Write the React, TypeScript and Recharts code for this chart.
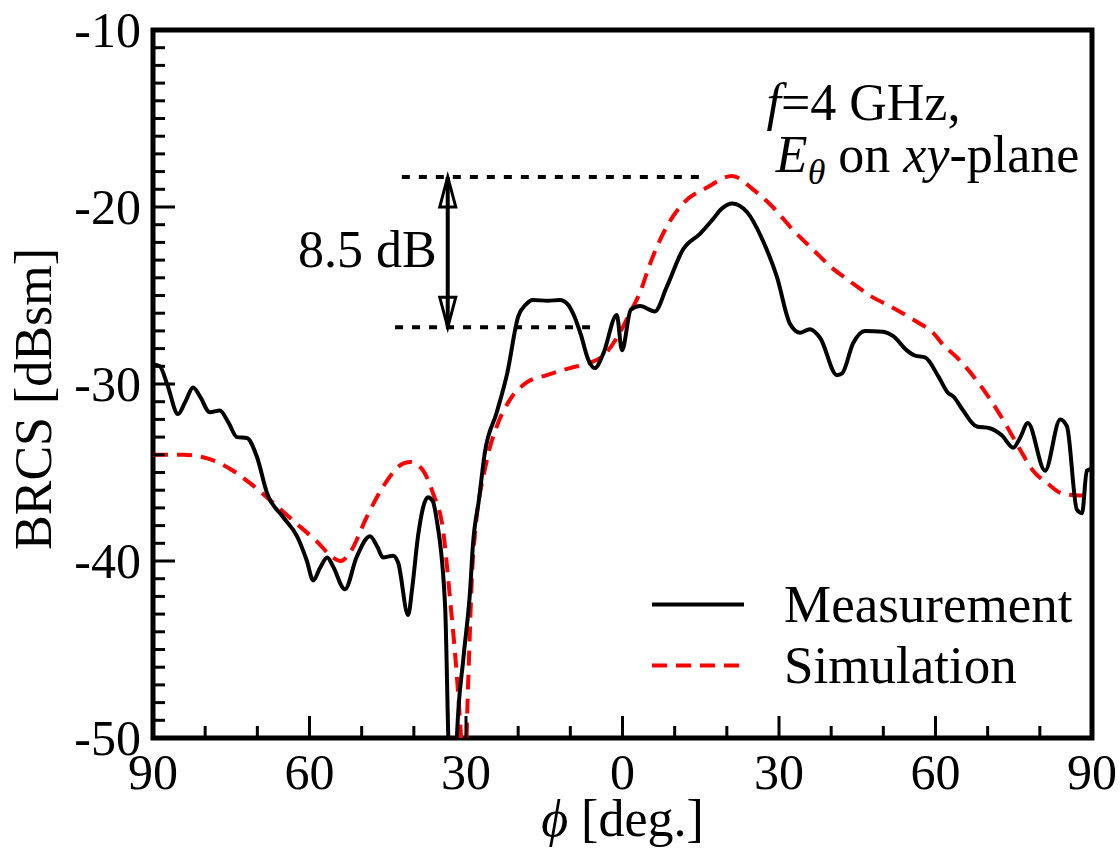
import React from 'react';
import {
  LineChart,
  Line,
  XAxis,
  YAxis,
  ReferenceLine,
  ReferenceDot,
  ReferenceArea,
  Legend,
} from 'recharts';

// ---- data (phi in degrees, BRCS in dBsm) ----
const measPhi = [
  -90, -88.7, -87.3, -85.2, -83.8, -82.3, -81, -79.1, -77.2, -75.5, -73.9, -72.0, -70.1, -68.1,
  -65.1, -62.4, -60.5, -59.3, -58, -56.6, -55.5, -53.2, -51, -48.4, -47, -45.9, -44.0, -43.0,
  -41.1, -40.3, -39.2, -37.3, -36.4, -35.6, -34.0, -33.4, -32.6, -31.7, -30.5, -29.2, -28.7,
  -27.5, -26.4, -24.1, -22.1, -20.0, -18.5, -17.2, -14.3, -12.0, -10.5, -9.5, -8, -6.6, -5.3,
  -3.7, -1.1, -0.1, 1.6, 3.4, 6.2, 8.5, 11.6, 14.9, 17.3, 19, 21.0, 23.9, 26.9, 29.6, 32.1,
  34.0, 35.9, 37.9, 41.1, 42.1, 44.2, 46.5, 49.9, 51.9, 54.5, 56.1, 58.0, 60.6, 62.4, 63.4,
  65.3, 67.9, 70.4, 72.7, 74.9, 76.2, 77.7, 81.0, 83.9, 85.2, 87.1, 88.1, 89.0, 90,
];
const measBrcs = [
  -28.9, -29.0, -30.0, -31.7, -31.0, -30.2, -30.7, -31.6, -31.5, -32.2, -33.0, -33.05, -34.1, -36.2,
  -37.5, -38.6, -40.0, -41.1, -40.4, -39.8, -40.3, -41.6, -39.8, -38.6, -39.2, -39.8, -39.7, -40.1,
  -43.05, -41.5, -38.6, -36.4, -36.6, -37.7, -42.6, -49.9, -58, -49.7, -45.5, -41.6, -39.2,
  -36.5, -33.9, -31.6, -29.4, -26.2, -25.5, -25.25, -25.3, -25.25, -25.5, -26.0, -27.2, -28.6, -29.1,
  -28.3, -26.1, -28.1, -25.8, -25.6, -25.9, -24.5, -22.4, -21.5, -20.7, -20.1, -19.8, -20.3, -21.9, -23.95, -26.6,
  -27.1, -26.9, -27.4, -29.5, -29.4, -27.7, -27.0, -27.05, -27.3, -28.1, -28.4, -28.5, -29.6, -30.5, -30.7,
  -31.5, -32.4, -32.5, -32.9, -33.6, -33.05, -32.2, -34.9, -32.0, -32.4, -37.1, -37.3, -34.9, -34.8,
];

const simPhi = [
  -90, -84.2, -79.6, -75.2, -71.4, -67.6, -63.2, -58.6, -55.5, -54.0, -52.2, -49.0, -45.9, -42.1,
  -40.7, -38.2, -36.3, -34.4, -33.1, -31.7, -31.0, -30.3, -29.6, -28.7, -26.0, -24.1, -21.6, -18.3,
  -14.5, -10.1, -6.2, -3.7, -1.1, 1.4, 3.4, 5.3, 8.5, 11.6, 16.2, 21.0, 25.0, 28.8, 32.7, 36.5,
  40.0, 43.6, 47.4, 51.9, 56.5, 59.5, 61.5, 64.1, 67.9, 71.0, 73.7, 76.2, 78.7, 81.4, 84.4, 87.7, 90,
];
const simBrcs = [
  -34.0, -34.0, -34.2, -34.8, -35.6, -36.55, -37.7, -38.9, -39.8, -40.0, -39.5, -37.5, -35.8, -34.5,
  -34.4, -34.9, -36.2, -38.25, -42.0, -46.7, -49.7, -53, -47, -40.0, -34.3, -32.4, -30.9, -29.9,
  -29.5, -29.1, -28.8, -28.4, -27.4, -26.0, -24.8, -23.2, -21.1, -19.8, -18.9, -18.25, -19.0, -20.0, -21.3, -22.4,
  -23.4, -24.2, -25.0, -25.7, -26.5, -27.1, -27.8, -28.5, -29.8, -31.1, -32.4, -33.7, -34.9, -35.6, -36.2, -36.3, -36.3,
];

const seriesNames = ['Measurement', 'Simulation'];
const xTicks = [-90, -80, -70, -60, -50, -40, -30, -20, -10, 0, 10, 20, 30, 40, 50, 60, 70, 80, 90];
const yTicks = [
  -50, -49, -48, -47, -46, -45, -44, -43, -42, -41, -40, -39, -38, -37, -36, -35, -34, -33, -32, -31,
  -30, -29, -28, -27, -26, -25, -24, -23, -22, -21, -20, -19, -18, -17, -16, -15, -14, -13, -12, -11, -10,
];

// annotation values
const peakLevel = -18.3;
const measLevel = -26.8;
const upperSpan = [-42.3, 16.2];
const lowerSpan = [-43.6, -4.7];
const arrowPhi = -33.5;

const measData = measPhi.map((p, i) => ({ phi: p, v: measBrcs[i] }));
const simData = simPhi.map((p, i) => ({ phi: p, v: simBrcs[i] }));

const FONT = '"Liberation Serif", "Times New Roman", Times, serif';
const TICK_FS = 50;
const TEXT_FS = 52;

const BottomTick = (props: any) => {
  const { x, y, payload } = props;
  const v = payload.value;
  const major = v % 30 === 0;
  return (
    <g>
      <line x1={x} x2={x} y1={y} y2={y - (major ? 22 : 12)} stroke="#000" strokeWidth={3} />
      {major && (
        <text x={x} y={y + 51} textAnchor="middle" fontSize={TICK_FS} fontFamily={FONT} fill="#000">
          {Math.abs(v)}
        </text>
      )}
    </g>
  );
};

const TopTick = (props: any) => {
  const { x, y, payload } = props;
  const major = payload.value % 30 === 0;
  return <line x1={x} x2={x} y1={y} y2={y + (major ? 22 : 12)} stroke="#000" strokeWidth={3} />;
};

const LeftTick = (props: any) => {
  const { x, y, payload } = props;
  const v = payload.value;
  const major = v % 10 === 0;
  return (
    <g>
      <line x1={x} x2={x + (major ? 22 : 12)} y1={y} y2={y} stroke="#000" strokeWidth={3} />
      {major && (
        <text x={x - 12} y={y + 17} textAnchor="end" fontSize={TICK_FS} fontFamily={FONT} fill="#000">
          {v}
        </text>
      )}
    </g>
  );
};

const RightTick = (props: any) => {
  const { x, y, payload } = props;
  const major = payload.value % 10 === 0;
  return <line x1={x} x2={x - (major ? 22 : 12)} y1={y} y2={y} stroke="#000" strokeWidth={3} />;
};

const ArrowShape = (props: any) => {
  const { x1, y1, y2 } = props;
  const top = Math.min(y1, y2);
  const bot = Math.max(y1, y2);
  const x = x1;
  const hw = 8;
  const hl = 30;
  return (
    <g>
      <line x1={x} x2={x} y1={top} y2={bot} stroke="#000" strokeWidth={4} />
      <polygon
        points={`${x},${top} ${x - hw},${top + hl} ${x + hw},${top + hl}`}
        fill="none"
        stroke="#000"
        strokeWidth={3}
      />
      <polygon
        points={`${x},${bot} ${x - hw},${bot - hl} ${x + hw},${bot - hl}`}
        fill="none"
        stroke="#000"
        strokeWidth={3}
      />
    </g>
  );
};

const DiffText = (props: any) => (
  <text x={props.cx} y={props.cy} textAnchor="end" fontSize={TEXT_FS} fontFamily={FONT} fill="#000">
    8.5 dB
  </text>
);

const FreqText = (props: any) => (
  <text x={props.cx} y={props.cy} textAnchor="start" fontSize={TEXT_FS} fontFamily={FONT} fill="#000">
    <tspan fontStyle="italic">f</tspan>
    <tspan>=4 GHz,</tspan>
  </text>
);

const PolText = (props: any) => (
  <text x={props.cx} y={props.cy} textAnchor="start" fontSize={TEXT_FS} fontFamily={FONT} fill="#000">
    <tspan fontStyle="italic">E</tspan>
    <tspan fontStyle="italic" fontSize={36} dy={12}>θ</tspan>
    <tspan dy={-12}> on </tspan>
    <tspan fontStyle="italic">xy</tspan>
    <tspan>-plane</tspan>
  </text>
);

const LegendBox = () => (
  <div style={{ fontFamily: FONT, fontSize: 53, color: '#000', lineHeight: '61px' }}>
    {seriesNames.map((n, i) => (
      <div key={n} style={{ display: 'flex', alignItems: 'center', height: 61, whiteSpace: 'nowrap' }}>
        <svg width={96} height={61} style={{ display: 'block' }}>
          <line
            x1={2}
            x2={94}
            y1={30.5}
            y2={30.5}
            stroke={i === 0 ? '#000' : '#ff0000'}
            strokeWidth={4}
            strokeDasharray={i === 0 ? undefined : '15 9'}
          />
        </svg>
        <span style={{ marginLeft: 38 }}>{n}</span>
      </div>
    ))}
  </div>
);

export default function App() {
  return (
    <div style={{ position: 'absolute', left: 0, top: 0, width: 1120, height: 848, background: '#fff' }}>
      <LineChart width={1120} height={848} margin={{ top: 0, right: 0, bottom: 0, left: 0 }}>
        <XAxis
          xAxisId="b"
          dataKey="phi"
          type="number"
          domain={[-90, 90]}
          ticks={xTicks}
          interval={0}
          allowDataOverflow
          orientation="bottom"
          height={110}
          tickSize={0}
          tickMargin={0}
          axisLine={false}
          tickLine={false}
          tick={<BottomTick />}
          label={{
            content: (p: any) => {
              const vb = p.viewBox;
              return (
                <text
                  x={vb.x + vb.width / 2}
                  y={vb.y + 98}
                  textAnchor="middle"
                  fontSize={TEXT_FS}
                  fontFamily={FONT}
                  fill="#000"
                >
                  <tspan fontStyle="italic">ϕ</tspan>
                  <tspan> [deg.]</tspan>
                </text>
              );
            },
          }}
        />
        <XAxis
          xAxisId="t"
          dataKey="phi"
          type="number"
          domain={[-90, 90]}
          ticks={xTicks}
          interval={0}
          orientation="top"
          height={30}
          tickSize={0}
          tickMargin={0}
          axisLine={false}
          tickLine={false}
          tick={<TopTick />}
        />
        <YAxis
          yAxisId="l"
          type="number"
          domain={[-50, -10]}
          ticks={yTicks}
          interval={0}
          allowDataOverflow
          orientation="left"
          width={153}
          tickSize={0}
          tickMargin={0}
          axisLine={false}
          tickLine={false}
          tick={<LeftTick />}
          label={{
            content: (p: any) => {
              const vb = p.viewBox;
              const cx = vb.x + 51;
              const cy = vb.y + vb.height / 2 + 15;
              return (
                <text
                  x={cx}
                  y={cy}
                  transform={`rotate(-90 ${cx} ${cy})`}
                  textAnchor="middle"
                  fontSize={TEXT_FS}
                  fontFamily={FONT}
                  fill="#000"
                >
                  BRCS [dBsm]
                </text>
              );
            },
          }}
        />
        <YAxis
          yAxisId="r"
          type="number"
          domain={[-50, -10]}
          ticks={yTicks}
          interval={0}
          orientation="right"
          width={28}
          tickSize={0}
          tickMargin={0}
          axisLine={false}
          tickLine={false}
          tick={<RightTick />}
        />

        <ReferenceLine
          xAxisId="b"
          yAxisId="l"
          segment={[
            { x: upperSpan[0], y: peakLevel },
            { x: upperSpan[1], y: peakLevel },
          ]}
          stroke="#000"
          strokeWidth={4}
          strokeDasharray="8 9"
        />
        <ReferenceLine
          xAxisId="b"
          yAxisId="l"
          segment={[
            { x: lowerSpan[0], y: measLevel },
            { x: lowerSpan[1], y: measLevel },
          ]}
          stroke="#000"
          strokeWidth={4}
          strokeDasharray="8 9"
        />
        <ReferenceLine
          xAxisId="b"
          yAxisId="l"
          segment={[
            { x: arrowPhi, y: peakLevel },
            { x: arrowPhi, y: measLevel },
          ]}
          shape={<ArrowShape />}
        />
        <ReferenceDot xAxisId="b" yAxisId="l" x={-35.6} y={-23.4} r={1} shape={<DiffText />} />
        <ReferenceDot xAxisId="b" yAxisId="l" x={27.6} y={-15.1} r={1} shape={<FreqText />} />
        <ReferenceDot xAxisId="b" yAxisId="l" x={29.4} y={-18.0} r={1} shape={<PolText />} />

        <Line
          xAxisId="b"
          yAxisId="l"
          data={simData}
          dataKey="v"
          name={seriesNames[1]}
          type="monotone"
          stroke="#ff0000"
          strokeWidth={4}
          strokeDasharray="15 9"
          dot={false}
          activeDot={false}
          isAnimationActive={false}
        />
        <Line
          xAxisId="b"
          yAxisId="l"
          data={measData}
          dataKey="v"
          name={seriesNames[0]}
          type="monotone"
          stroke="#000"
          strokeWidth={4}
          dot={false}
          activeDot={false}
          isAnimationActive={false}
        />
        <ReferenceArea
          xAxisId="b"
          yAxisId="l"
          x1={-90}
          x2={90}
          y1={-50}
          y2={-10}
          fill="none"
          fillOpacity={0}
          stroke="#000"
          strokeWidth={5}
        />
        <Legend
          layout="horizontal"
          verticalAlign="middle"
          align="center"
          content={() => <LegendBox />}
          wrapperStyle={{ position: 'absolute', left: 650, top: 574, width: 'auto', height: 'auto' }}
        />
      </LineChart>
    </div>
  );
}
